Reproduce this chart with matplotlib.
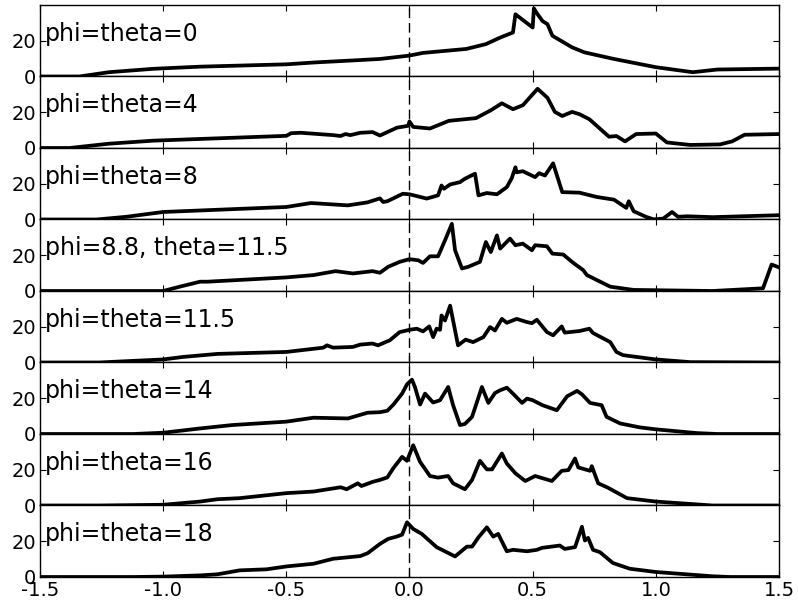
import matplotlib
matplotlib.use('Agg')
import matplotlib.pyplot as plt

plt.rcParams['font.family'] = ['DejaVu Sans']
plt.rcParams['font.size'] = 14
plt.rcParams['axes.unicode_minus'] = False
plt.rcParams['xtick.direction'] = 'in'
plt.rcParams['ytick.direction'] = 'in'
plt.rcParams['xtick.top'] = True
plt.rcParams['ytick.right'] = True
plt.rcParams['xtick.major.size'] = 4.5
plt.rcParams['ytick.major.size'] = 4.5
plt.rcParams['xtick.major.pad'] = 3
plt.rcParams['ytick.major.pad'] = 3

labels = ['phi=theta=0', 'phi=theta=4', 'phi=theta=8', 'phi=8.8, theta=11.5',
          'phi=theta=11.5', 'phi=theta=14', 'phi=theta=16', 'phi=theta=18']

x_t0 = [-1.5, -1.34, -1.22, -1.04, -0.85, -0.5, -0.38, -0.24, -0.12, 0.0, 0.055, 0.23, 0.31,
        0.37, 0.42, 0.43, 0.50, 0.505, 0.52, 0.54, 0.56, 0.58, 0.66, 0.71, 0.83, 1.0, 1.15, 1.25, 1.5]
y_t0 = [0, 0, 2.4, 4.3, 5.5, 6.8, 7.9, 8.9, 9.8, 11.7, 13.2, 15.4, 18.1,
        21.9, 24.6, 34.8, 27.4, 38.1, 34.8, 31, 29.3, 22.8, 16.3, 13.5, 9.8, 5.2, 2.4, 3.9, 4.4]

x_t4 = [-1.5, -1.38, -1.22, -1.04, -0.5, -0.48, -0.44, -0.31, -0.28, -0.26, -0.24, -0.2, -0.15,
        -0.12, -0.05, -0.006, 0.0, 0.015, 0.083, 0.16, 0.27, 0.33, 0.375, 0.42, 0.46, 0.52, 0.56,
        0.59, 0.62, 0.66, 0.69, 0.73, 0.81, 0.84, 0.875, 0.92, 1.0, 1.045, 1.14, 1.26, 1.31, 1.36, 1.5]
y_t4 = [0, 0, 2.4, 4.1, 6.8, 8.3, 8.5, 7.2, 6.7, 7.8, 7.2, 8.5, 8.9,
        7.0, 11.4, 12.4, 14.8, 11.8, 10.9, 15.2, 16.7, 21.1, 25, 21.7, 23.9, 33.1, 28.1,
        20.2, 17.9, 20.2, 18.9, 16.1, 6.3, 6.7, 3.7, 7.8, 8.1, 3.1, 1.7, 2.0, 3.7, 7.4, 7.8]

x_t8 = [-1.5, -1.27, -1.15, -1.0, -0.5, -0.4, -0.25, -0.17, -0.12, -0.107, -0.09, -0.027, 0.0,
        0.07, 0.116, 0.13, 0.14, 0.165, 0.205, 0.225, 0.266, 0.28, 0.314, 0.355, 0.395, 0.415,
        0.43, 0.435, 0.46, 0.51, 0.526, 0.55, 0.583, 0.62, 0.69, 0.76, 0.83, 0.88, 0.89, 0.91,
        0.96, 0.99, 1.03, 1.066, 1.09, 1.127, 1.23, 1.5]
y_t8 = [0, 0, 1.5, 4.2, 7.0, 9.2, 7.9, 9.6, 11.8, 9.8, 10.2, 14.4, 14.1,
        11.7, 13.5, 19, 17.2, 19.6, 20.9, 22.8, 25.6, 13.5, 14.8, 14.1, 18.1, 23.1,
        29.2, 26.4, 27, 23.7, 25.9, 24.6, 31.4, 15.3, 15, 12.6, 11.1, 6.5, 10.2, 4.6,
        1.5, 0.1, 0.5, 4.2, 1.5, 1.8, 1.3, 2.4]

x_t88 = [-1.5, -1.0, -0.93, -0.85, -0.82, -0.5, -0.39, -0.3, -0.23, -0.15, -0.12, -0.087, -0.04,
         0.0, 0.035, 0.055, 0.083, 0.116, 0.144, 0.172, 0.185, 0.213, 0.238, 0.286, 0.31, 0.33,
         0.355, 0.368, 0.408, 0.43, 0.46, 0.497, 0.51, 0.558, 0.58, 0.624, 0.665, 0.705, 0.72,
         0.815, 0.91, 1.23, 1.435, 1.47, 1.5]
y_t88 = [0, 0, 2.5, 5.2, 5.2, 7.6, 8.9, 11.1, 9.8, 11.1, 10.2, 13.5, 16.3,
         17.8, 17.2, 15.7, 19.4, 19.4, 28.3, 37.6, 22.8, 12.6, 13.5, 16.3, 27.4, 21.8,
         31.1, 23.7, 29.3, 25.6, 26.5, 22.8, 25.6, 25, 20.9, 20.4, 15.7, 11.7, 8.9,
         2.4, 0.6, 0, 1.5, 14.8, 13.2]

x_t115 = [-1.5, -1.26, -1.0, -0.92, -0.78, -0.5, -0.35, -0.335, -0.31, -0.23, -0.2, -0.15, -0.128,
          -0.08, -0.04, 0.0, 0.03, 0.055, 0.08, 0.096, 0.11, 0.124, 0.13, 0.144, 0.165, 0.197,
          0.228, 0.258, 0.3, 0.327, 0.347, 0.375, 0.395, 0.435, 0.477, 0.497, 0.517, 0.558,
          0.583, 0.618, 0.63, 0.69, 0.73, 0.745, 0.815, 0.84, 0.867, 1.0, 1.14, 1.5]
y_t115 = [0, 0, 1.7, 3.1, 4.8, 5.9, 8.3, 9.6, 8.3, 8.7, 10, 10.6, 9.6,
          12.4, 17, 18.3, 18.9, 17.4, 20.2, 14.2, 18.9, 18.3, 26.3, 23.5, 31.8, 9.6,
          12.8, 11.4, 14.2, 19.8, 17.9, 24.4, 22.2, 24.4, 22.6, 22, 23.9, 17,
          15.2, 20.2, 16.7, 17.6, 18.9, 16.5, 11.4, 5.9, 4.1, 1.7, 0.2, 0]

x_t14 = [-1.5, -1.12, -1.0, -0.85, -0.72, -0.5, -0.39, -0.25, -0.17, -0.12, -0.09, -0.065, -0.03,
         -0.01, 0.01, 0.022, 0.043, 0.063, 0.096, 0.124, 0.157, 0.177, 0.205, 0.225, 0.254, 0.294,
         0.32, 0.347, 0.367, 0.395, 0.42, 0.457, 0.477, 0.5, 0.54, 0.598, 0.618, 0.64, 0.68, 0.70,
         0.733, 0.78, 0.8, 0.855, 0.935, 1.0, 1.167, 1.25, 1.5]
y_t14 = [0, 0, 0.7, 3.1, 5.0, 6.9, 9.1, 8.7, 11.9, 12.2, 13, 16.5, 22.6,
         27.8, 30.4, 26.3, 16.5, 22.6, 17.6, 18.9, 26.3, 16.1, 5, 5.6, 9.6, 26.3,
         17.4, 22.9, 24.4, 25.9, 22.6, 17.4, 19.8, 18.9, 16.1, 13.3, 17, 21.1, 24.1, 22.2,
         17.4, 16.1, 9.6, 5.9, 3.7, 2.6, 0.5, 0, 0]

x_t16 = [-1.5, -1.26, -1.0, -0.85, -0.78, -0.69, -0.5, -0.39, -0.28, -0.255, -0.21, -0.195, -0.148,
         -0.12, -0.09, -0.066, -0.03, -0.01, 0.015, 0.043, 0.083, 0.116, 0.157, 0.177, 0.225, 0.254,
         0.286, 0.314, 0.335, 0.375, 0.395, 0.43, 0.47, 0.51, 0.578, 0.618, 0.645, 0.672, 0.685,
         0.733, 0.74, 0.766, 0.805, 0.883, 1.0, 1.23, 1.5]
y_t16 = [0, 0, 0.4, 2.2, 3.5, 4.1, 6.9, 7.8, 10.2, 9.1, 12.4, 10.9, 13.3,
         14.3, 15.7, 20.8, 27.2, 25, 33.7, 24.4, 16.5, 15.6, 16.5, 12.4, 9.1, 14.3,
         25, 20.2, 20.2, 29.1, 23.5, 18, 13.7, 16.5, 13.7, 19.4, 19.8, 26.3, 21.3,
         19.4, 22, 12.4, 10, 4.1, 2.2, 0, 0]

x_t18 = [-1.5, -1.12, -1.0, -0.85, -0.78, -0.69, -0.58, -0.5, -0.39, -0.31, -0.2, -0.17, -0.12,
         -0.087, -0.052, -0.03, -0.01, 0.015, 0.05, 0.11, 0.185, 0.233, 0.254, 0.28, 0.314, 0.34,
         0.36, 0.395, 0.42, 0.477, 0.517, 0.538, 0.61, 0.63, 0.672, 0.7, 0.712, 0.725, 0.745,
         0.773, 0.826, 0.895, 1.0, 1.23, 1.3, 1.5]
y_t18 = [0, 0, 0.2, 0.9, 1.5, 3.7, 4.3, 5.9, 7.4, 10.2, 11.7, 13.3, 18.5,
         21.3, 22.6, 23.7, 30.6, 26.9, 24.1, 16.7, 11.5, 17, 17, 22.2, 27.8, 22.6,
         24.1, 14.4, 15.2, 14.4, 15.2, 16.3, 17.6, 15.7, 16.7, 28.1, 20.4, 21.9, 15.2,
         13.9, 7.8, 4.6, 2.8, 0.4, 0, 0]

xs = [x_t0, x_t4, x_t8, x_t88, x_t115, x_t14, x_t16, x_t18]
ys = [y_t0, y_t4, y_t8, y_t88, y_t115, y_t14, y_t16, y_t18]

fig, axes = plt.subplots(8, 1, sharex=True, figsize=(7.98, 6.08), dpi=100)
fig.subplots_adjust(left=0.0501, right=0.9762, top=0.9918, bottom=0.051, hspace=0)

for ax, x, y, lab in zip(axes, xs, ys, labels):
    ax.plot(x, y, color='black', linewidth=2.7)
    ax.axvline(0, color='black', linestyle='--', linewidth=1, dashes=(7, 3.5))
    ax.set_xlim(-1.5, 1.5)
    ax.set_ylim(0, 40)
    ax.set_yticks([0, 20])
    ax.set_xticks([-1.5, -1.0, -0.5, 0.0, 0.5, 1.0, 1.5])
    ax.text(-1.48, 20, lab, fontsize=17, va='baseline', ha='left')
    for s in ax.spines.values():
        s.set_linewidth(1.0)

axes[-1].set_xticklabels(['-1.5', '-1.0', '-0.5', '0.0', '0.5', '1.0', '1.5'])

plt.savefig('out.png')
